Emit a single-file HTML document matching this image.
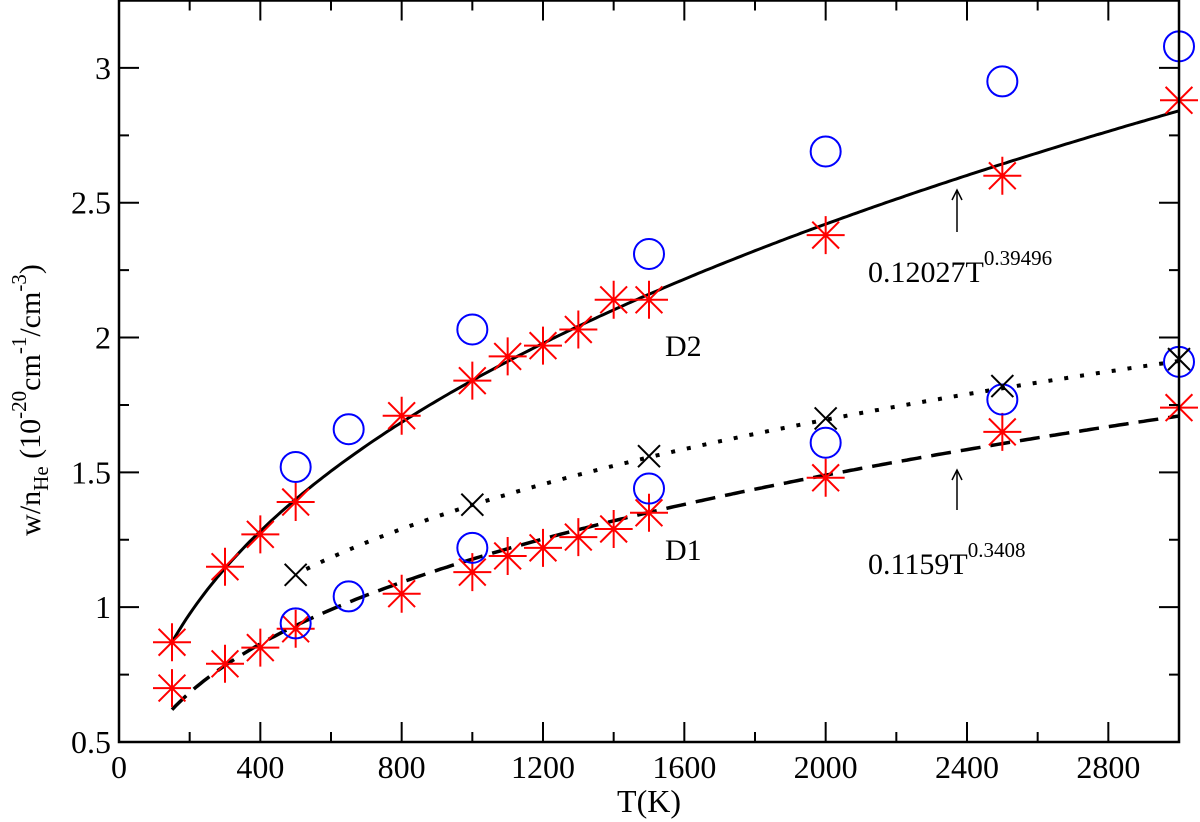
<!DOCTYPE html>
<html><head><meta charset="utf-8"><style>
body{margin:0;background:#fff}
svg{display:block;font-family:"Liberation Serif",serif}
</style></head><body>
<svg id="chart" width="1200" height="822" viewBox="0 0 1200 822" xmlns="http://www.w3.org/2000/svg">
<g id="marks"></g>
<g id="axes"></g>
<text x="665" y="356" font-size="30">D2</text>
<text x="665" y="560" font-size="30">D1</text>
<text x="868" y="282" font-size="30">0.12027T<tspan font-size="21" dy="-17">0.39496</tspan></text>
<text x="868" y="574" font-size="30">0.1159T<tspan font-size="21" dy="-17">0.3408</tspan></text>
<g stroke="#000" stroke-width="1.5" fill="none"><line x1="957" y1="232" x2="957" y2="190"/><path d="M952,200 L957,190 L962,200"/></g>
<g stroke="#000" stroke-width="1.5" fill="none"><line x1="957" y1="510" x2="957" y2="470"/><path d="M952,480 L957,470 L962,480"/></g>
<text x="649" y="812" font-size="32" text-anchor="middle">T(K)</text>
<text transform="translate(40,400) rotate(-90)" font-size="30" text-anchor="middle">w/n<tspan font-size="21" dy="8">He</tspan><tspan dy="-8"> (10</tspan><tspan font-size="21" dy="-14">-20</tspan><tspan dy="14">cm</tspan><tspan font-size="21" dy="-14">-1</tspan><tspan dy="14">/cm</tspan><tspan font-size="21" dy="-14">-3</tspan><tspan dy="14">)</tspan></text>
</svg>
<script>
const d2StarT=[150,300,400,500,800,1000,1100,1200,1300,1400,1500,2000,2500,3000];
const d2StarV=[0.87,1.15,1.27,1.39,1.71,1.84,1.93,1.97,2.03,2.14,2.14,2.38,2.60,2.88];
const d1StarT=[150,300,400,500,800,1000,1100,1200,1300,1400,1500,2000,2500,3000];
const d1StarV=[0.70,0.79,0.85,0.92,1.05,1.13,1.19,1.22,1.26,1.29,1.35,1.48,1.65,1.74];
const d2CircT=[500,650,1000,1500,2000,2500,3000];
const d2CircV=[1.52,1.66,2.03,2.31,2.69,2.95,3.08];
const d1CircT=[500,650,1000,1500,2000,2500,3000];
const d1CircV=[0.94,1.04,1.22,1.44,1.61,1.77,1.91];
const crossT=[500,1000,1500,2000,2500,3000];
const crossV=[1.12,1.38,1.56,1.70,1.82,1.92];
const fitD2=[0.12027,0.39496];
const fitD1=[0.1136,0.3386];
const fitX=[0.176,0.298];
const xTicks=[0,400,800,1200,1600,2000,2400,2800];
const yTicks=[0.5,1,1.5,2,2.5,3];
const X0=119,X1=1179,Y0=742,Y1=0.5,XMIN=0,XMAX=3000,YMIN=0.5,YMAX=3.25;
const sx=t=>X0+(t-XMIN)/(XMAX-XMIN)*(X1-X0);
const sy=v=>Y0-(v-YMIN)/(YMAX-YMIN)*(Y0-Y1);
const NS='http://www.w3.org/2000/svg';
const marks=document.getElementById('marks'),axes=document.getElementById('axes');
function mk(tag,attrs,parent){const e=document.createElementNS(NS,tag);for(const k in attrs)e.setAttribute(k,attrs[k]);parent.appendChild(e);return e;}
function fitPath(p,t0,t1){let d='';for(let t=t0;t<=t1;t+=10){d+=(d?'L':'M')+sx(t).toFixed(1)+','+sy(p[0]*Math.pow(t,p[1])).toFixed(1);}return d;}
let e;
e=mk('path',{d:fitPath(fitD2,150,3000),fill:'none',stroke:'#000','stroke-width':3},marks);


e=mk('path',{d:fitPath(fitD1,150,3000),fill:'none',stroke:'#000','stroke-width':3.5,'stroke-dasharray':'20,10'},marks);


e=mk('path',{d:fitPath(fitX,530,3000),fill:'none',stroke:'#000','stroke-width':4,'stroke-dasharray':'4,12'},marks);


function star(T,V,name){for(let i=0;i<T.length;i++){const cx=sx(T[i]),cy=sy(V[i]),r=19,q=13.4;
 e=mk('path',{d:`M${cx-r},${cy}H${cx+r}M${cx},${cy-r}V${cy+r}M${cx-q},${cy-q}L${cx+q},${cy+q}M${cx-q},${cy+q}L${cx+q},${cy-q}`,stroke:'#f00','stroke-width':2,fill:'none'},marks);
 
 }}
function circ(T,V,name){for(let i=0;i<T.length;i++){
 e=mk('circle',{cx:sx(T[i]),cy:sy(V[i]),r:15,stroke:'#00f','stroke-width':2,fill:'none'},marks);
 
 }}
star(d2StarT,d2StarV,'d2-star-point');
star(d1StarT,d1StarV,'d1-star-point');
circ(d2CircT,d2CircV,'d2-circle-point');
circ(d1CircT,d1CircV,'d1-circle-point');
for(let i=0;i<crossT.length;i++){const cx=sx(crossT[i]),cy=sy(crossV[i]),r=11;
 e=mk('path',{d:`M${cx-r},${cy-r}L${cx+r},${cy+r}M${cx-r},${cy+r}L${cx+r},${cy-r}`,stroke:'#000','stroke-width':2,fill:'none'},marks);
 
 }
e=mk('rect',{x:X0,y:Y1,width:X1-X0,height:Y0-Y1,fill:'none',stroke:'#000','stroke-width':2.5},axes);


for(let t=0;t<=XMAX;t+=200){const maj=t%400===0,L=maj?20:10,x=sx(t);
 e=mk('path',{d:`M${x},${Y0}V${Y0-L}M${x},${Y1}V${Y1+L}`,stroke:'#000','stroke-width':2},axes);
 
 }
for(let v=0.5;v<=YMAX+1e-9;v+=0.25){const maj=Math.abs(v*2-Math.round(v*2))<1e-9,L=maj?20:10,y=sy(v);
 e=mk('path',{d:`M${X0},${y}H${X0+L}M${X1},${y}H${X1-L}`,stroke:'#000','stroke-width':2},axes);
 
 }
xTicks.forEach(t=>{e=mk('text',{x:sx(t),y:Y0+36,'font-size':32,'text-anchor':'middle'},axes);e.textContent=String(t);
 
 });
yTicks.forEach(v=>{e=mk('text',{x:X0-8,y:sy(v)+11,'font-size':32,'text-anchor':'end'},axes);e.textContent=String(v);
 
 });
</script>
</body></html>
